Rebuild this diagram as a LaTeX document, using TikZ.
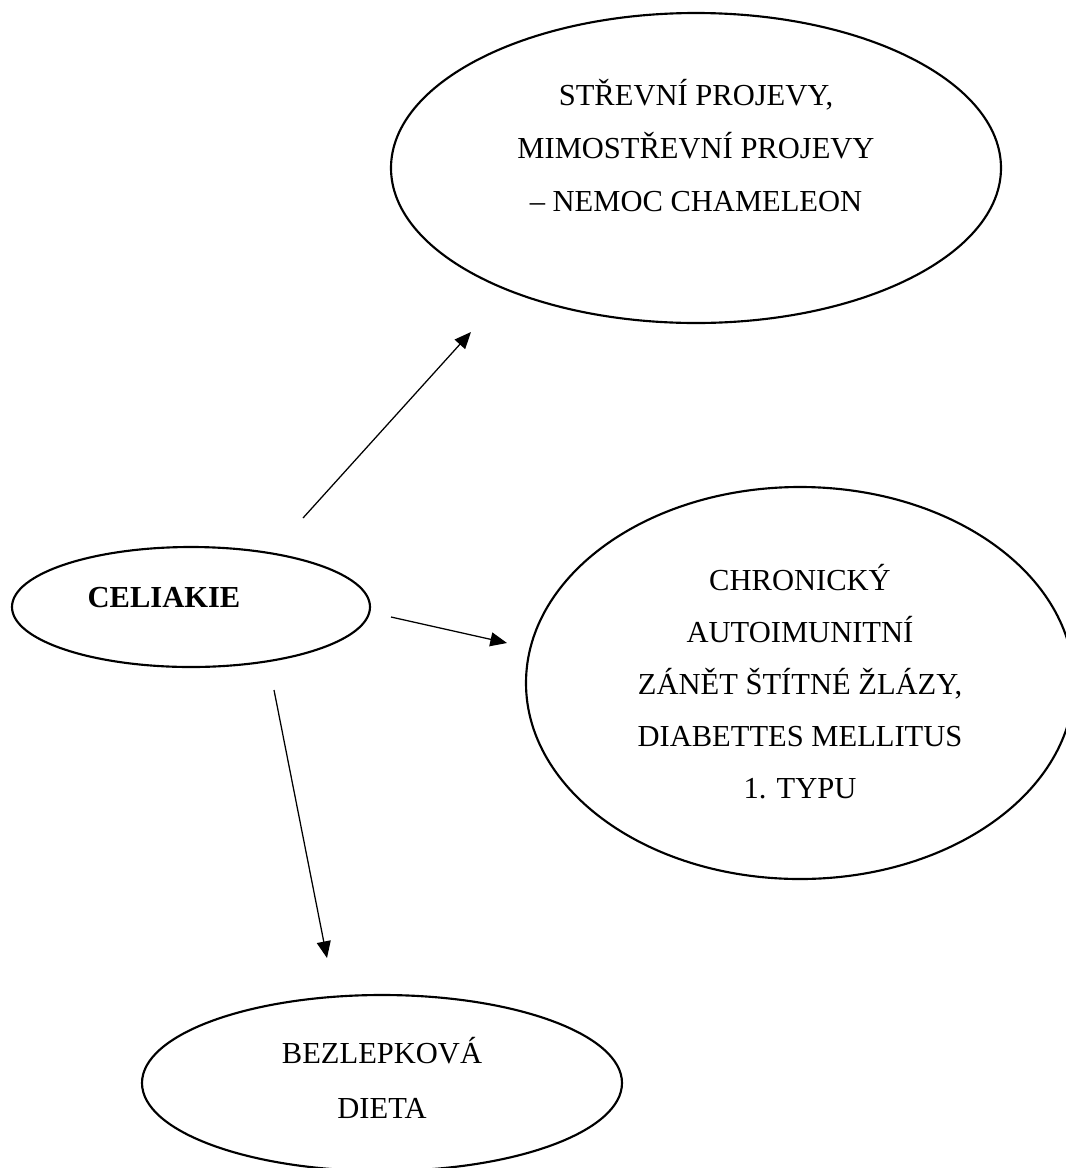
\documentclass[tikz,border=0pt]{standalone}
\usepackage{fontspec}
\setmainfont{Liberation Serif}
\usetikzlibrary{shapes.geometric,arrows.meta,calc}
\begin{document}
\begin{tikzpicture}[x=0.75pt,y=-0.75pt,
  oval/.style={ellipse,draw,line width=1.6pt,inner sep=0pt},
  txt/.style={anchor=base,inner sep=0pt,font=\fontsize{22.9pt}{27pt}\selectfont},
  link/.style={line width=0.95pt,-{Triangle[length=12.5pt,width=10.5pt]}}]
\useasboundingbox (0,0) rectangle (1066,1168);
\clip (0,0) rectangle (1066,1168);

% ovals
\node[oval,minimum width=268.5pt,minimum height=90pt]  (celiakie) at (191,607)  {};
\node[oval,minimum width=457.5pt,minimum height=232.5pt] (projevy) at (696,168) {};
\node[oval,minimum width=411pt,minimum height=294pt]   (zanet)    at (800,683)  {};
\node[oval,minimum width=360pt,minimum height=132pt]   (dieta)    at (382,1083) {};

% labels
\node[txt,font=\fontsize{22.9pt}{27pt}\selectfont\bfseries] (tcel) at (164,607) {CELIAKIE};

\node[txt] (tp1) at (696,105) {STŘEVNÍ PROJEVY,};
\node[txt] (tp2) at (696,158) {MIMOSTŘEVNÍ PROJEVY};
\node[txt] (tp3) at (696,211) {– NEMOC CHAMELEON};

\node[txt] (tz1) at (800,590) {CHRONICKÝ};
\node[txt] (tz2) at (800,642) {AUTOIMUNITNÍ};
\node[txt] (tz3) at (800,694) {ZÁNĚT ŠTÍTNÉ ŽLÁZY,};
\node[txt] (tz4) at (800,746) {DIABETTES MELLITUS};
\node[txt] (tz5) at (800,798) {1. TYPU};

\node[txt] (td1) at (382,1063) {BEZLEPKOVÁ};
\node[txt] (td2) at (382,1118) {DIETA};

% arrow ends, placed relative to the ovals
\coordinate (s1) at ($(celiakie.center)+(112,-89)$);
\coordinate (e1) at ($(projevy.center)+(-225,164)$);
\coordinate (s2) at ($(celiakie.center)+(200,10)$);
\coordinate (e2) at ($(zanet.center)+(-293,-40)$);
\coordinate (s3) at ($(celiakie.center)+(83,83)$);
\coordinate (e3) at ($(dieta.center)+(-55,-125)$);

\draw[link] (s1) -- (e1);
\draw[link] (s2) -- (e2);
\draw[link] (s3) -- (e3);
\end{tikzpicture}
\end{document}
